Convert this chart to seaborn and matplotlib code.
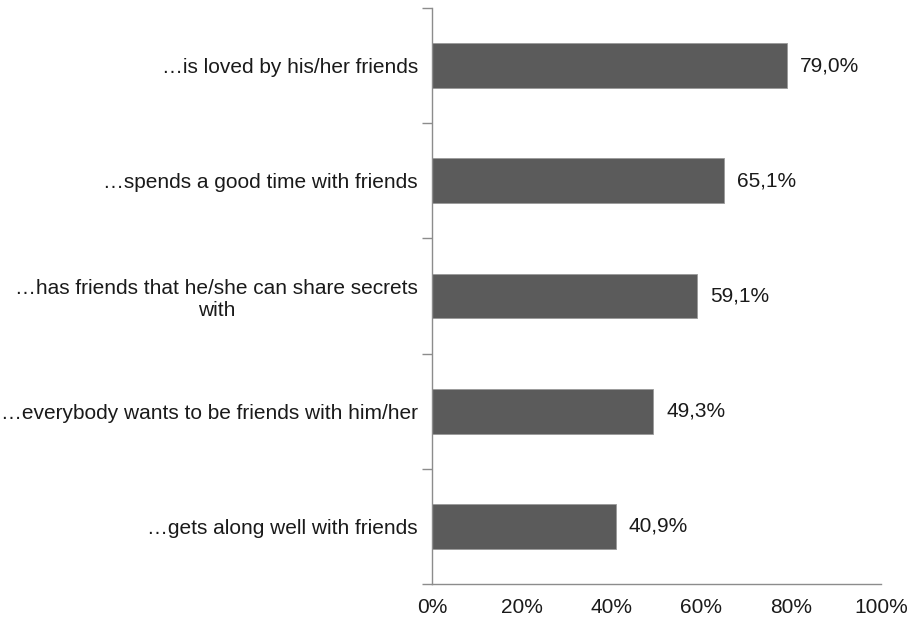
import matplotlib
matplotlib.use("Agg")
import matplotlib.pyplot as plt
from matplotlib.ticker import FixedLocator, PercentFormatter
import seaborn as sns
import pandas as pd

categories = [
    "…is loved by his/her friends",
    "…spends a good time with friends",
    "…has friends that he/she can share secrets\nwith",
    "…everybody wants to be friends with him/her",
    "…gets along well with friends",
]
shares = [79.0, 65.1, 59.1, 49.3, 40.9]
x_ticks = [0, 20, 40, 60, 80, 100]

df = pd.DataFrame({"category": categories, "share": shares})

sns.set_theme(style="white")
plt.rcParams["font.family"] = ["Liberation Sans", "DejaVu Sans"]
axis_grey = "#8c8c8c"
text_color = "#1a1a1a"
fs = 15

fig = plt.figure(figsize=(9.14, 6.23), dpi=100)
ax = fig.add_axes([0.4726, 0.0626, 0.9639 - 0.4726, 0.9872 - 0.0626])

sns.barplot(data=df, x="share", y="category", orient="h", color="#5b5b5b",
            width=0.39, edgecolor="#9a9a9a", linewidth=0.6, saturation=1, ax=ax)

ax.set_xlim(0, 100)
ax.set_ylim(len(categories) - 0.5, -0.5)
ax.set_xlabel("")
ax.set_ylabel("")

ax.xaxis.set_major_locator(FixedLocator(x_ticks))
ax.xaxis.set_major_formatter(PercentFormatter(decimals=0))
ax.tick_params(axis="x", which="major", direction="out", length=6, width=1,
               color=axis_grey, labelsize=fs, labelcolor=text_color, pad=4)

# category labels at bar centres, tick marks at category boundaries
ax.tick_params(axis="y", which="major", length=0, labelsize=fs,
               labelcolor=text_color, pad=10)
for lab in ax.get_yticklabels():
    lab.set_multialignment("center")
ax.yaxis.set_minor_locator(FixedLocator([i - 0.5 for i in range(len(categories) + 1)]))
ax.tick_params(axis="y", which="minor", direction="out", length=7, width=1,
               color=axis_grey, left=True)

for side in ["top", "right"]:
    ax.spines[side].set_visible(False)
for side in ["left", "bottom"]:
    ax.spines[side].set_color(axis_grey)
    ax.spines[side].set_linewidth(1)

for i, v in enumerate(shares):
    ax.annotate(f"{v:.1f}%".replace(".", ","), xy=(v, i), xytext=(9.5, 0),
                textcoords="offset points", va="center", ha="left",
                fontsize=fs, color=text_color)

fig.savefig("out.png", dpi=100)
